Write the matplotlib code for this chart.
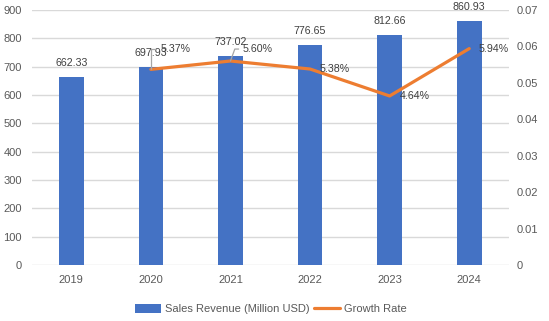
import numpy as np
import matplotlib
matplotlib.use("Agg")
import matplotlib.pyplot as plt
from matplotlib.ticker import FixedLocator, FixedFormatter

plt.rcParams['font.family'] = ['Liberation Sans', 'DejaVu Sans']

years = ["2019", "2020", "2021", "2022", "2023", "2024"]
revenue = [662.33, 697.93, 737.02, 776.65, 812.66, 860.93]
growth = [np.nan, 0.0537, 0.0560, 0.0538, 0.0464, 0.0594]
left_ticks = [0, 100, 200, 300, 400, 500, 600, 700, 800, 900]
right_ticks = [0, 0.01, 0.02, 0.03, 0.04, 0.05, 0.06, 0.07]
right_tick_labels = ["0", "0.01", "0.02", "0.03", "0.04", "0.05", "0.06", "0.07"]

BLUE = "#4472C4"
ORANGE = "#ED7D31"
GRID = "#D9D9D9"
TICK = "#595959"
LABEL = "#404040"

W, H = 549, 321
fig = plt.figure(figsize=(W / 100, H / 100), dpi=100)
left, right, top, bottom = 31.5, 509, 10, 265
ax = fig.add_axes([left / W, 1 - bottom / H, (right - left) / W, (bottom - top) / H])
ax2 = ax.twinx()

x = np.arange(len(years))
bars = ax.bar(x, revenue, width=0.31, color=BLUE, zorder=2, label="Sales Revenue (Million USD)")
ax.set_xlim(-0.5, len(years) - 0.5)
ax.set_ylim(0, 900)
ax.yaxis.set_major_locator(FixedLocator(left_ticks))
ax.set_xticks(x)
ax.set_xticklabels(years)
ax.grid(axis='y', color=GRID, linewidth=1.0, zorder=0)
ax.set_axisbelow(True)

ax2.set_ylim(0, 0.07)
ax2.yaxis.set_major_locator(FixedLocator(right_ticks))
ax2.yaxis.set_major_formatter(FixedFormatter(right_tick_labels))

for a in (ax, ax2):
    for s in a.spines.values():
        s.set_visible(False)
ax.tick_params(axis='y', length=0, pad=6.8, labelsize=8, labelcolor=TICK)
ax.tick_params(axis='x', length=0, pad=7, labelsize=8, labelcolor=TICK)
ax2.tick_params(axis='y', length=0, pad=5.8, labelsize=8, labelcolor=TICK)

line, = ax2.plot(x, growth, color=ORANGE, linewidth=2.3, solid_capstyle='round',
                 solid_joinstyle='round', zorder=3, label="Growth Rate")

# value labels above bars
for xi, v in zip(x, revenue):
    ax.annotate(f"{v:.2f}", (xi, v), xytext=(0, 10), textcoords='offset points',
                ha='center', va='center', fontsize=7.7, color=LABEL, zorder=4)

# growth-rate labels; the first two are lifted with leader lines
offsets = {1: (6.8, 14.5), 2: (8.9, 8.6)}
for xi, g in zip(x, growth):
    if np.isnan(g):
        continue
    txt = f"{g * 100:.2f}%"
    if xi in offsets:
        conn = "angle,angleA=0,angleB=90,rad=0" if xi == 1 else "angle,angleA=0,angleB=70,rad=0"
        ax2.annotate(txt, (xi, g), xytext=offsets[xi], textcoords='offset points',
                     ha='left', va='center', fontsize=7.7, color=LABEL, zorder=5,
                     arrowprops=dict(arrowstyle='-', color='#A6A6A6', linewidth=0.9,
                                     connectionstyle=conn, shrinkA=1, shrinkB=0))
    else:
        ax2.annotate(txt, (xi, g), xytext=(7, 0), textcoords='offset points',
                     ha='left', va='center', fontsize=7.7, color=LABEL, zorder=5)

fig.legend(handles=[bars, line], loc='center', bbox_to_anchor=(271 / W, 1 - 309 / H),
           ncol=2, frameon=False, fontsize=8, labelcolor=TICK, handlelength=2.3,
           handleheight=0.9, handletextpad=0.4, columnspacing=0.4)

fig.savefig("out.png", dpi=100)
